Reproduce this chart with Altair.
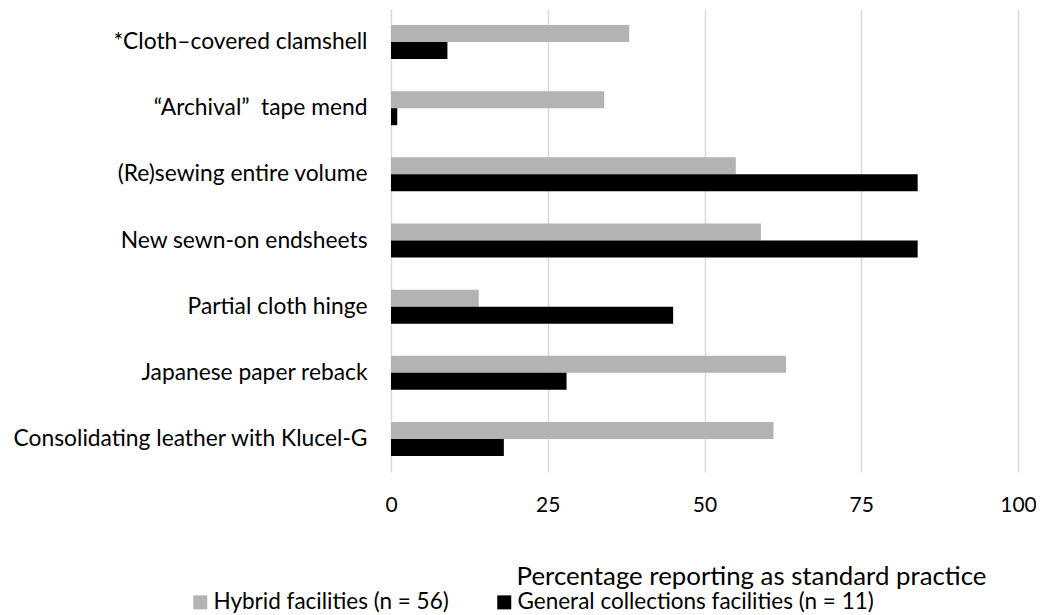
import altair as alt
import pandas as pd

categories = [
    "*Cloth\u2013covered clamshell",
    "\u201cArchival\u201d\u00a0 tape mend",
    "(Re)sewing entire volume",
    "New sewn-on endsheets",
    "Partial cloth hinge",
    "Japanese paper reback",
    "Consolidating leather with Klucel-G",
]
series = ["Hybrid facilities (n = 56)", "General collections facilities (n = 11)"]
hybrid = [38, 34, 55, 59, 14, 63, 61]
general = [9, 1, 84, 84, 45, 28, 18]
x_ticks = [0, 25, 50, 75, 100]
colors = ["#b3b3b3", "#000000"]

rows = []
for c, h, g in zip(categories, hybrid, general):
    rows.append({"practice": c, "series": series[0], "value": h})
    rows.append({"practice": c, "series": series[1], "value": g})
df = pd.DataFrame(rows)

FONT = "Lato"

chart = alt.Chart(df).mark_bar().encode(
    y=alt.Y(
        "practice:N",
        sort=categories,
        scale=alt.Scale(paddingInner=0.486, paddingOuter=0.243),
        axis=alt.Axis(
            title=None, ticks=False, tickSize=0, domain=False, grid=False,
            labelFont=FONT, labelFontSize=22.8, labelColor="#000000",
            labelPadding=24, labelLimit=500,
        ),
    ),
    x=alt.X(
        "value:Q",
        scale=alt.Scale(domain=[0, 100], nice=False),
        axis=alt.Axis(
            values=x_ticks, grid=True, gridColor="#d9d9d9", gridWidth=1.5,
            domain=False, ticks=False, tickSize=0,
            labelFont=FONT, labelFontSize=21, labelColor="#000000",
            labelPadding=22, labelFlush=False,
            title="Percentage reporting as standard practice",
            titleFont=FONT, titleFontSize=25.8, titleFontWeight="normal",
            titleColor="#000000", titleX=360, titleY=112,
            titleAlign="center", titleBaseline="alphabetic",
        ),
    ),
    yOffset=alt.YOffset(
        "series:N", sort=series, scale=alt.Scale(paddingInner=0, paddingOuter=0)
    ),
    color=alt.Color(
        "series:N",
        sort=series,
        scale=alt.Scale(domain=series, range=colors),
        legend=alt.Legend(
            title=None, orient="none", direction="horizontal",
            legendX=-202, legendY=582,
            symbolType="square", symbolSize=196, symbolStrokeWidth=0,
            labelFont=FONT, labelFontSize=22.5, labelColor="#000000",
            labelOffset=2, columnPadding=44, labelLimit=500,
        ),
    ),
).properties(
    width=627,
    height=463,
    padding={"left": 383, "top": 1, "right": 18, "bottom": 142},
    autosize=alt.AutoSizeParams(type="none"),
).configure_view(stroke=None)

chart.save("out.html", embed_options={"renderer": "svg", "actions": False})
